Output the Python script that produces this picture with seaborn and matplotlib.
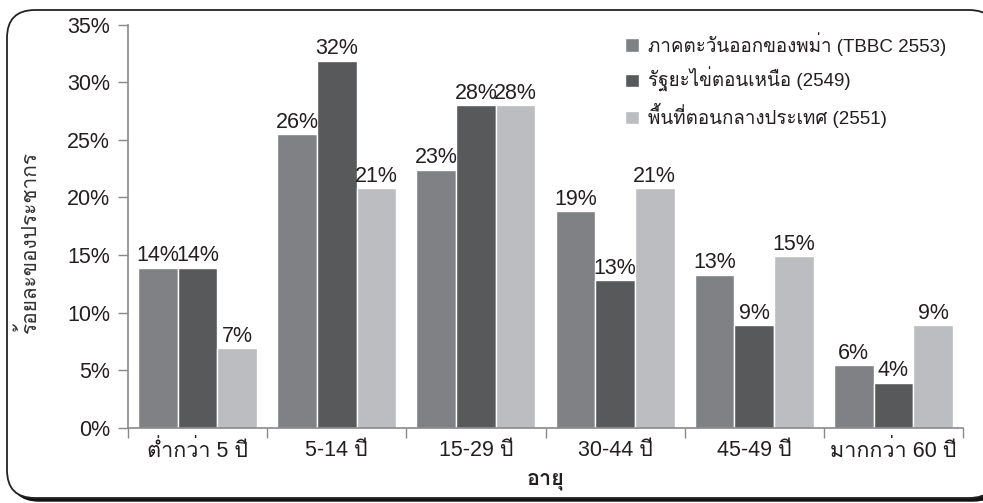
import matplotlib
matplotlib.use("Agg")
import matplotlib.pyplot as plt
import pandas as pd
import seaborn as sns
from matplotlib import font_manager
from matplotlib.ft2font import FT2Font
from matplotlib.patches import FancyBboxPatch
from matplotlib.ticker import FixedLocator, PercentFormatter

# chart values
age_groups = ["ต่ำกว่า 5 ปี", "5-14 ปี", "15-29 ปี", "30-44 ปี", "45-49 ปี", "มากกว่า 60 ปี"]
series_names = ["ภาคตะวันออกของพม่า (TBBC 2553)", "รัฐยะไข่ตอนเหนือ (2549)", "พื้นที่ตอนกลางประเทศ (2551)"]
east_burma = [13.9, 25.5, 22.4, 18.8, 13.3, 5.4]
rakhine_north = [13.9, 31.9, 28.0, 12.8, 8.9, 3.9]
central = [6.9, 20.8, 28.0, 20.8, 14.9, 8.9]
east_burma_labels = ["14%", "26%", "23%", "19%", "13%", "6%"]
rakhine_north_labels = ["14%", "32%", "28%", "13%", "9%", "4%"]
central_labels = ["7%", "21%", "28%", "21%", "15%", "9%"]
colors = ["#808184", "#58595b", "#bcbdc0"]


def _thai_font():
    # the listed families have no Thai, so look for any installed face that has it
    for f in font_manager.fontManager.ttflist:
        try:
            if 0x0E01 in FT2Font(f.fname).get_charmap():
                return f.name
        except Exception:
            continue
    return None


sns.set_style("white")
thai = _thai_font()
families = ["Liberation Sans"] + ([thai] if thai else []) + ["DejaVu Sans"]
plt.rcParams["font.family"] = families

df = pd.DataFrame({
    "age": age_groups * 3,
    "value": east_burma + rakhine_north + central,
    "series": sum([[s] * len(age_groups) for s in series_names], []),
})

fig = plt.figure(figsize=(9.83, 5.03), dpi=100)
shadow = FancyBboxPatch((0.11, 0.02), 9.9, 4.88, boxstyle="round,pad=0,rounding_size=0.28",
                        transform=fig.dpi_scale_trans, facecolor="#111111", edgecolor="#111111", zorder=-3)
frame = FancyBboxPatch((0.07, 0.05), 9.9, 4.88, boxstyle="round,pad=0,rounding_size=0.28",
                       transform=fig.dpi_scale_trans, facecolor="white", edgecolor="#222222",
                       linewidth=1.3, zorder=-2)
fig.patches.extend([shadow, frame])

ax = fig.add_axes([0.1302, 0.150, 0.8495, 0.8005])
ax.patch.set_alpha(0)
sns.barplot(data=df, x="age", y="value", hue="series", palette=colors, width=0.855, gap=0,
            saturation=1, ax=ax, legend=True)

for container, labels in zip(ax.containers, [east_burma_labels, rakhine_north_labels, central_labels]):
    ax.bar_label(container, labels=labels, padding=1, fontsize=15.5, color="#231f20")

ax.set_xlim(-0.5, len(age_groups) - 0.5)
ax.set_ylim(0, 35)
ax.yaxis.set_major_locator(FixedLocator(range(0, 36, 5)))
ax.yaxis.set_major_formatter(PercentFormatter(decimals=0))
ax.xaxis.set_minor_locator(FixedLocator([i - 0.5 for i in range(len(age_groups) + 1)]))
ax.tick_params(axis="x", which="major", length=0, labelsize=15.5, pad=9, labelcolor="#231f20")
ax.tick_params(axis="x", which="minor", length=7, width=1, color="#898989", direction="out", bottom=True)
ax.tick_params(axis="y", length=7, width=1, color="#898989", labelsize=15.5, labelcolor="#231f20",
               left=True, pad=6)
for side in ["top", "right"]:
    ax.spines[side].set_visible(False)
for side in ["left", "bottom"]:
    ax.spines[side].set_color("#898989")
    ax.spines[side].set_linewidth(1.2)

ax.set_xlabel("อายุ", fontsize=15.5, fontweight="bold", color="#231f20", labelpad=5)
ax.set_ylabel("ร้อยละของประชากร", fontsize=15, fontweight="normal", color="#333333")
ax.yaxis.set_label_coords(-0.106, 0.46)

handles, labels = ax.get_legend_handles_labels()
ax.legend(handles, labels, loc="upper right", bbox_to_anchor=(1.0, 1.025), frameon=False, fontsize=13.5,
          handlelength=0.7, handleheight=0.7, handletextpad=0.5, labelspacing=0.6, labelcolor="#231f20")

fig.savefig("out.png", dpi=100)
